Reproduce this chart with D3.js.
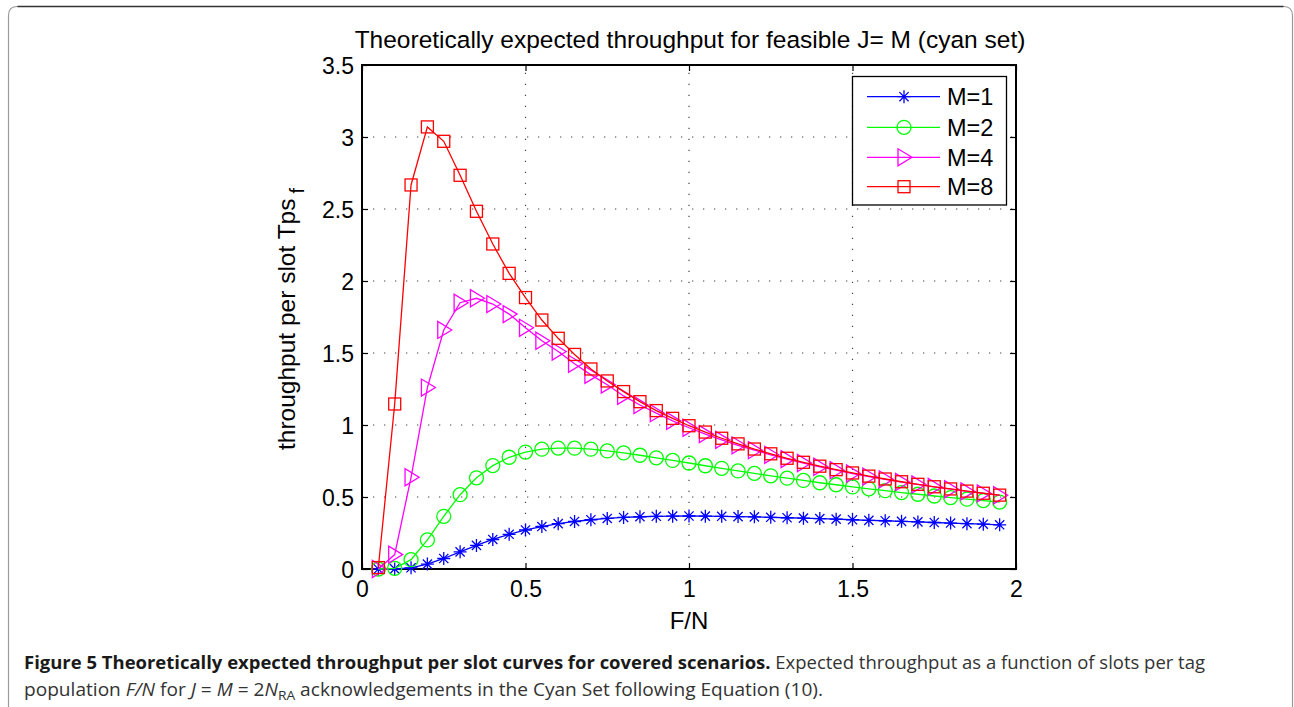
<!DOCTYPE html>
<html>
<head>
<meta charset="utf-8">
<script src="https://cdn.jsdelivr.net/npm/d3@7"></script>
<style>
  html, body { margin: 0; padding: 0; background: #fff; }
  svg { display: block; }
</style>
</head>
<body>
<svg id="fig" width="1294" height="707"></svg>
<script>
// Slots per tag population F/N at which each curve is evaluated
const fn = [0.05, 0.10, 0.15, 0.20, 0.25, 0.30, 0.35, 0.40, 0.45, 0.50,
            0.55, 0.60, 0.65, 0.70, 0.75, 0.80, 0.85, 0.90, 0.95, 1.00,
            1.05, 1.10, 1.15, 1.20, 1.25, 1.30, 1.35, 1.40, 1.45, 1.50,
            1.55, 1.60, 1.65, 1.70, 1.75, 1.80, 1.85, 1.90, 1.95];

// Expected throughput per slot for each number of acknowledgements M
const tpsM1 = [0.0, 0.0005, 0.0085, 0.034, 0.073, 0.119, 0.164, 0.205, 0.241, 0.271,
               0.295, 0.315, 0.330, 0.342, 0.351, 0.358, 0.363, 0.366, 0.367, 0.368,
               0.367, 0.366, 0.364, 0.362, 0.359, 0.356, 0.353, 0.350, 0.346, 0.342,
               0.338, 0.335, 0.331, 0.327, 0.323, 0.319, 0.315, 0.311, 0.307];
const tpsM2 = [0.0, 0.005, 0.065, 0.202, 0.366, 0.516, 0.633, 0.718, 0.776, 0.812,
               0.832, 0.840, 0.839, 0.832, 0.820, 0.806, 0.790, 0.772, 0.754, 0.736,
               0.717, 0.699, 0.681, 0.664, 0.647, 0.631, 0.615, 0.599, 0.585, 0.570,
               0.557, 0.544, 0.531, 0.519, 0.507, 0.496, 0.485, 0.475, 0.465];
const tpsM4 = [0.0, 0.10, 0.637, 1.26, 1.66, 1.849, 1.88, 1.84, 1.77, 1.675,
               1.585, 1.51, 1.425, 1.348, 1.28, 1.202, 1.139, 1.082, 1.029, 0.981,
               0.937, 0.897, 0.859, 0.825, 0.793, 0.763, 0.736, 0.710, 0.686, 0.663,
               0.642, 0.623, 0.604, 0.587, 0.570, 0.554, 0.539, 0.525, 0.512];
const tpsM8 = [0.01, 1.146, 2.667, 3.07, 2.97, 2.734, 2.484, 2.257, 2.053, 1.885,
               1.729, 1.602, 1.49, 1.389, 1.306, 1.232, 1.162, 1.10, 1.046, 0.995,
               0.951, 0.908, 0.869, 0.833, 0.800, 0.769, 0.741, 0.714, 0.690, 0.667,
               0.645, 0.625, 0.606, 0.588, 0.571, 0.556, 0.541, 0.526, 0.513];

const seriesNames = ["M=1", "M=2", "M=4", "M=8"];
const seriesColors = ["#0000ff", "#00ff00", "#ff00ff", "#ff0000"];
const seriesMarkers = ["star", "circle", "triangle", "square"];

const xTicks = [0, 0.5, 1, 1.5, 2];
const xTickLabels = ["0", "0.5", "1", "1.5", "2"];
const yTicks = [0, 0.5, 1, 1.5, 2, 2.5, 3, 3.5];
const yTickLabels = ["0", "0.5", "1", "1.5", "2", "2.5", "3", "3.5"];

const series = [tpsM1, tpsM2, tpsM4, tpsM8].map((vals, i) => ({
  name: seriesNames[i], color: seriesColors[i], marker: seriesMarkers[i],
  points: vals.map((v, j) => ({ x: fn[j], y: v }))
}));

const svg = d3.select("#fig");
const axisFont = "'Liberation Sans', Arial, Helvetica, sans-serif";

// page frame with rounded top corners
const fr = 9;
svg.append("path")
  .attr("d", `M8.5,707 L8.5,${6.5 + fr} Q8.5,6.5 ${8.5 + fr},6.5 L${1292.5 - fr},6.5 Q1292.5,6.5 1292.5,${6.5 + fr} L1292.5,707`)
  .attr("fill", "none").attr("stroke", "#9a9a9a").attr("stroke-width", 1.2);
svg.append("line")
  .attr("x1", 8.5 + fr).attr("x2", 1292.5 - fr).attr("y1", 6.5).attr("y2", 6.5)
  .attr("stroke", "#333").attr("stroke-width", 1.4);

const plot = { left: 362, right: 1016, top: 65, bottom: 569 };
const x = d3.scaleLinear().domain([0, 2]).range([plot.left, plot.right]);
const y = d3.scaleLinear().domain([0, 3.5]).range([plot.bottom, plot.top]);

// dotted grid
const grid = svg.append("g");
grid.selectAll("line.gx").data(xTicks.slice(1, -1)).enter().append("line")
  .attr("x1", d => x(d)).attr("x2", d => x(d))
  .attr("y1", plot.bottom).attr("y2", plot.top)
  .attr("stroke", "#444").attr("stroke-width", 1.2)
  .attr("stroke-dasharray", "1.3,9.7");
grid.selectAll("line.gy").data(yTicks.slice(1, -1)).enter().append("line")
  .attr("x1", plot.left).attr("x2", plot.right)
  .attr("y1", d => y(d)).attr("y2", d => y(d))
  .attr("stroke", "#444").attr("stroke-width", 1.2)
  .attr("stroke-dasharray", "1.3,9.7");

// axes with inward ticks on all four sides
const tickLen = 6;
const axB = svg.append("g").attr("transform", `translate(0,${plot.bottom})`)
  .call(d3.axisBottom(x).tickValues(xTicks).tickFormat((d, i) => xTickLabels[i])
    .tickSizeInner(-tickLen).tickSizeOuter(0).tickPadding(12));
const axT = svg.append("g").attr("transform", `translate(0,${plot.top})`)
  .call(d3.axisTop(x).tickValues(xTicks).tickFormat("").tickSizeInner(-tickLen).tickSizeOuter(0));
const axL = svg.append("g").attr("transform", `translate(${plot.left},0)`)
  .call(d3.axisLeft(y).tickValues(yTicks).tickFormat((d, i) => yTickLabels[i])
    .tickSizeInner(-tickLen).tickSizeOuter(0).tickPadding(8));
const axR = svg.append("g").attr("transform", `translate(${plot.right},0)`)
  .call(d3.axisRight(y).tickValues(yTicks).tickFormat("").tickSizeInner(-tickLen).tickSizeOuter(0));
[axB, axT, axL, axR].forEach(g => {
  g.select(".domain").remove();
  g.selectAll(".tick line").attr("stroke", "#000").attr("stroke-width", 1.2);
  g.selectAll("text").attr("font-family", axisFont).attr("font-size", 23).attr("fill", "#000");
});
axB.selectAll("text").attr("dy", "0.71em");
axL.selectAll("text").attr("dy", "0.35em");

svg.append("rect")
  .attr("x", plot.left).attr("y", plot.top)
  .attr("width", plot.right - plot.left).attr("height", plot.bottom - plot.top)
  .attr("fill", "none").attr("stroke", "#000").attr("stroke-width", 2);

// marker drawing
function drawMarker(g, type, color) {
  if (type === "star") {
    g.append("path").attr("d", "M0,-6.5L0,6.5M-6.5,0L6.5,0M-4.6,-4.6L4.6,4.6M-4.6,4.6L4.6,-4.6")
      .attr("stroke", color).attr("stroke-width", 1.3).attr("fill", "none");
  } else if (type === "circle") {
    g.append("circle").attr("r", 7).attr("stroke", color).attr("stroke-width", 1.3).attr("fill", "none");
  } else if (type === "triangle") {
    g.append("path").attr("d", "M-6,-8.5L-6,8.5L8,0Z")
      .attr("stroke", color).attr("stroke-width", 1.3).attr("fill", "none");
  } else if (type === "square") {
    g.append("rect").attr("x", -6).attr("y", -6).attr("width", 12).attr("height", 12)
      .attr("stroke", color).attr("stroke-width", 1.3).attr("fill", "none");
  }
}

const line = d3.line().x(d => x(d.x)).y(d => y(d.y));
const plotArea = svg.append("g");
series.forEach(s => {
  const g = plotArea.append("g");
  g.append("path").datum(s.points).attr("d", line)
    .attr("fill", "none").attr("stroke", s.color).attr("stroke-width", 1.3);
  g.selectAll("g.mk").data(s.points).enter().append("g")
    .attr("transform", d => `translate(${x(d.x)},${y(d.y)})`)
    .each(function () { drawMarker(d3.select(this), s.marker, s.color); });
});

// legend
const lg = svg.append("g");
lg.append("rect").attr("x", 852.5).attr("y", 76.5).attr("width", 154).attr("height", 128.5)
  .attr("fill", "#fff").attr("stroke", "#000").attr("stroke-width", 1.3);
const legendRowY = [96.7, 127.3, 157.3, 186.7];
series.forEach((s, i) => {
  const row = lg.append("g").attr("transform", `translate(0,${legendRowY[i]})`);
  row.append("line").attr("x1", 867).attr("x2", 940).attr("y1", 0).attr("y2", 0)
    .attr("stroke", s.color).attr("stroke-width", 1.3);
  drawMarker(row.append("g").attr("transform", "translate(904,0)"), s.marker, s.color);
  row.append("text").attr("x", 947).attr("y", 0).attr("dy", "0.36em")
    .attr("font-family", axisFont).attr("font-size", 23.5).text(s.name);
});

// titles
svg.append("text").attr("x", 690).attr("y", 48).attr("text-anchor", "middle")
  .attr("font-family", axisFont).attr("font-size", 24.5)
  .text("Theoretically expected throughput for feasible J= M (cyan set)");
svg.append("text").attr("x", 689).attr("y", 629).attr("text-anchor", "middle")
  .attr("font-family", axisFont).attr("font-size", 24).text("F/N");
const yl = svg.append("text").attr("transform", "translate(295,319) rotate(-90)")
  .attr("text-anchor", "middle").attr("font-family", axisFont).attr("font-size", 24.5);
yl.append("tspan").text("throughput per slot Tps");
yl.append("tspan").attr("dx", 5).attr("dy", 9).attr("font-size", 20).text("f");

// caption
const capFont = "'Open Sans', 'Noto Sans', sans-serif";
const c1 = svg.append("text").attr("x", 24).attr("y", 669)
  .attr("font-family", capFont).attr("font-size", 18)
  .attr("textLength", 1181).attr("lengthAdjust", "spacingAndGlyphs");
c1.append("tspan").attr("font-weight", "bold").attr("fill", "#1a1a1a")
  .text("Figure 5 Theoretically expected throughput per slot curves for covered scenarios.");
c1.append("tspan").attr("fill", "#333").text(" Expected throughput as a function of slots per tag");

const c2 = svg.append("text").attr("x", 24).attr("y", 696)
  .attr("font-family", capFont).attr("font-size", 18).attr("fill", "#333")
  .attr("textLength", 799).attr("lengthAdjust", "spacingAndGlyphs");
c2.append("tspan").text("population ");
c2.append("tspan").attr("font-style", "italic").text("F/N");
c2.append("tspan").text(" for ");
c2.append("tspan").attr("font-style", "italic").text("J");
c2.append("tspan").text(" = ");
c2.append("tspan").attr("font-style", "italic").text("M");
c2.append("tspan").text(" = 2");
c2.append("tspan").attr("font-style", "italic").text("N");
c2.append("tspan").attr("font-size", 13).attr("dy", 4).text("RA");
c2.append("tspan").attr("dy", -4).text(" acknowledgements in the Cyan Set following Equation (10).");
</script>
</body>
</html>
